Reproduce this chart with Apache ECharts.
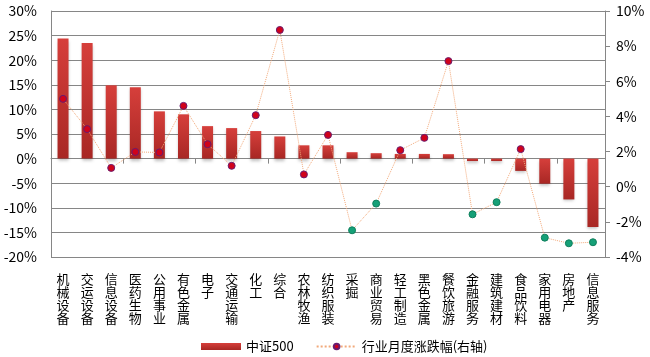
<!DOCTYPE html>
<html><head><meta charset="utf-8">
<script src="https://cdn.jsdelivr.net/npm/echarts@6/dist/echarts.min.js"></script>
<style>html,body{margin:0;padding:0;background:#fff}#c{width:650px;height:357px}</style>
</head><body><div id="c"></div>
<script>
const categories = ['机械设备','交运设备','信息设备','医药生物','公用事业','有色金属','电子','交通运输','化工','综合','农林牧渔','纺织服装','采掘','商业贸易','轻工制造','黑色金属','餐饮旅游','金融服务','建筑建材','食品饮料','家用电器','房地产','信息服务'];
const csi500 = [24.4,23.5,14.9,14.5,9.6,9.0,6.6,6.2,5.6,4.5,2.7,2.7,1.3,1.1,0.95,0.95,0.9,-0.5,-0.5,-2.5,-5.1,-8.3,-13.9];
const industryMonthly = [5.0,3.28,1.07,1.98,1.95,4.6,2.42,1.19,4.07,8.92,0.7,2.95,-2.48,-0.96,2.08,2.78,7.15,-1.57,-0.88,2.14,-2.9,-3.22,-3.16];
const leftTicks = {min:-20, max:30, interval:5};
const rightTicks = {min:-4, max:10, interval:2};

const font = '"Noto Sans CJK SC", "Microsoft YaHei", sans-serif';
const chart = echarts.init(document.getElementById('c'));
chart.setOption({
  animation:false,
  textStyle:{fontFamily:font},
  grid:{left:51, right:45, top:11, bottom:100},
  legend:{
    left:196, top:335, itemGap:22, itemWidth:40, itemHeight:7,
    textStyle:{fontSize:13, color:'#000', fontFamily:font},
    data:[{name:'中证500', icon:'rect'},{name:'行业月度涨跌幅(右轴)'}]
  },
  xAxis:[
    {type:'category', data:categories, axisLine:{onZero:true, lineStyle:{color:'#868686'}},
     axisTick:{show:true, length:5, lineStyle:{color:'#868686'}}, axisLabel:{show:false}},
    {type:'category', data:categories, position:'bottom', axisLine:{show:false, onZero:false},
     axisTick:{show:false}, axisLabel:{interval:0, margin:16, fontSize:13, color:'#000', lineHeight:13,
       verticalAlign:'top', formatter:v=>v.split('').join('\n')}}
  ],
  yAxis:[
    {type:'value', min:leftTicks.min, max:leftTicks.max, interval:leftTicks.interval,
     axisLine:{show:true, lineStyle:{color:'#868686'}}, axisTick:{show:false},
     axisLabel:{formatter:'{value}%', fontSize:14, color:'#000', margin:14},
     splitLine:{lineStyle:{color:'#868686'}}},
    {type:'value', min:rightTicks.min, max:rightTicks.max, interval:rightTicks.interval,
     axisLine:{show:true, lineStyle:{color:'#868686'}}, axisTick:{show:true, length:5, lineStyle:{color:'#868686'}},
     axisLabel:{formatter:'{value}%', fontSize:14, color:'#000', margin:11},
     splitLine:{show:false}}
  ],
  series:[
    {name:'中证500', type:'bar', xAxisIndex:0, yAxisIndex:0, data:csi500, barWidth:11,
     itemStyle:{color:new echarts.graphic.LinearGradient(0,0,0,1,[{offset:0,color:'#d63f3b'},{offset:1,color:'#a82724'}]),
       shadowColor:'rgba(0,0,0,0.25)', shadowBlur:3, shadowOffsetY:2}},
    {name:'行业月度涨跌幅(右轴)', type:'line', xAxisIndex:0, yAxisIndex:1,
     data:industryMonthly.map(v=>({value:v, itemStyle: v<0 ? {color:'#16a077', borderColor:'#0f7e5c', borderWidth:1} : {color:'#d0021b', borderColor:'#6a1b6e', borderWidth:1}})),
     symbol:'circle', symbolSize:7, showSymbol:true,
     lineStyle:{type:'dotted', color:'#f2a97a', width:1},
     itemStyle:{color:'#d0021b', borderColor:'#6a1b6e', borderWidth:1}}
  ]
});
</script></body></html>
